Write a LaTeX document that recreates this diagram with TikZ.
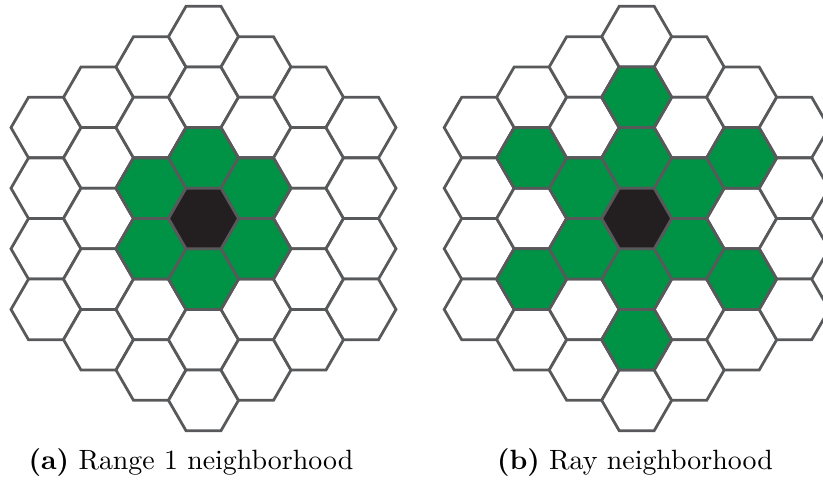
\documentclass[tikz,border=0pt]{standalone}
\definecolor{hexline}{RGB}{88,89,91}
\definecolor{hexgreen}{RGB}{0,146,69}
\definecolor{hexblack}{RGB}{35,31,32}
\tikzset{
  hexcell/.pic={\path[pic actions] (0:35) -- (60:35) -- (120:35) -- (180:35) -- (240:35) -- (300:35) -- cycle;},
  cell/.style={draw=hexline,line width=1.05pt},
  caption/.style={anchor=base,font=\fontsize{10.6}{13}\selectfont}
}
\begin{document}
\begin{tikzpicture}[x=0.38pt,y=0.38pt]
        \useasboundingbox (0,0) rectangle (823,481);
        \clip (0,0) rectangle (823,481);
        % both boards, radius 3
        \foreach \cx in {203.5,636.7}{
          \foreach \q in {-3,...,3}{
            \foreach \r in {-3,...,3}{
              \pgfmathtruncatemacro\s{abs(\q+\r)}
              \ifnum\s<4
                \pic[cell,fill=white] at (\cx+52.5*\q,262.5-60.62*\r-30.31*\q) {hexcell};
              \fi
            }}}
        % range 1
        \foreach \q/\r in {1/0,-1/0,0/1,0/-1,1/-1,-1/1}
          \pic[cell,fill=hexgreen] at (203.5+52.5*\q,262.5-60.62*\r-30.31*\q) {hexcell};
        % rays
        \foreach \q/\r in {1/0,-1/0,0/1,0/-1,1/-1,-1/1}
          \foreach \k in {1,2}
            \pic[cell,fill=hexgreen] at (636.7+52.5*\k*\q,262.5-60.62*\k*\r-30.31*\k*\q) {hexcell};
        \pic[cell,fill=hexblack] at (203.5,262.5) {hexcell};
        \pic[cell,fill=hexblack] at (636.7,262.5) {hexcell};
        \node[caption] (capa) at (191,11) {\textbf{(a)} Range 1 neighborhood};
        \node[caption] (capb) at (635,11) {\textbf{(b)} Ray neighborhood};
\end{tikzpicture}
\end{document}
